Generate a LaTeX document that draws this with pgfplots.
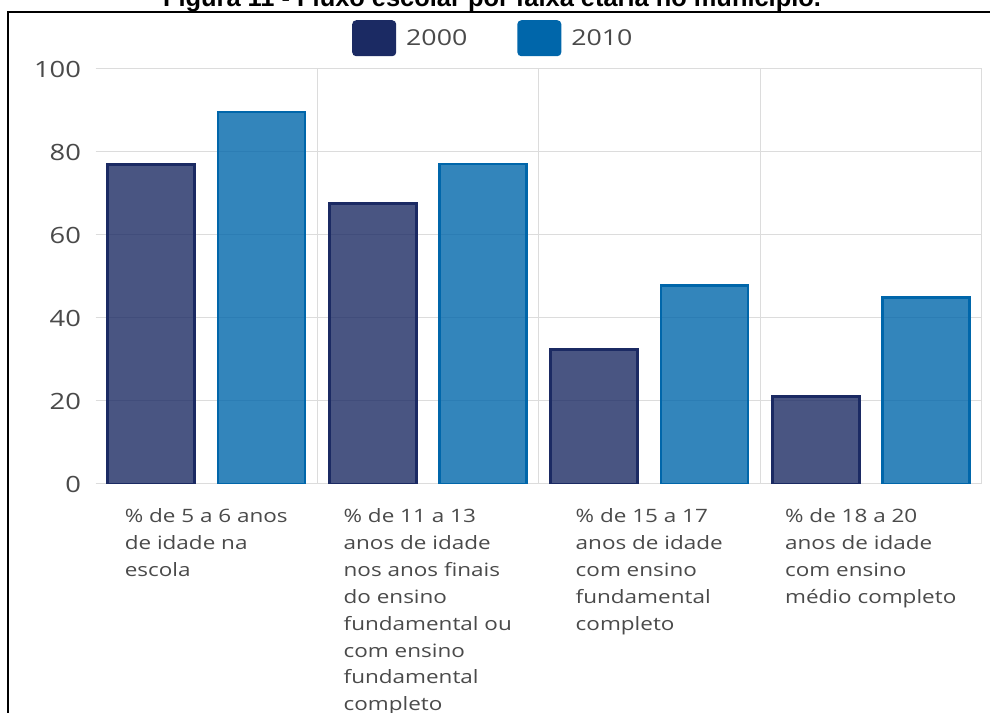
\documentclass[border=0pt]{standalone}
\usepackage{fontspec}
\setmainfont{Open Sans}[FakeStretch=1.22]
\newfontfamily\titlefont{Liberation Sans}
\usepackage{pgfplots}
\pgfplotsset{compat=1.18}

\definecolor{navy}{HTML}{1B2A63}
\definecolor{blu}{HTML}{0066AA}
\definecolor{lbl}{HTML}{4A4A4A}
\definecolor{gridc}{HTML}{DCDCDC}

\begin{document}
\begin{tikzpicture}
\useasboundingbox (0bp,0bp) rectangle (990bp,713bp);
% frame and cut-off caption
\draw[line width=2bp] (8bp,0bp) -- (8bp,701bp) -- (995bp,701bp);
\node[anchor=base, font=\titlefont\bfseries\fontsize{25.5}{25.5}\selectfont] at (492bp,706bp)
  {Figura 11 - Fluxo escolar por faixa etária no município.};

\begin{axis}[
  at={(95.5bp,229bp)}, anchor=south west,
  scale only axis, width=886bp, height=415bp,
  xmin=-0.5, xmax=3.5, ymin=0, ymax=100,
  axis line style={draw=none},
  major tick length=0pt,
  ytick={0,20,...,100},
  ymajorgrids,
  grid style={gridc, line width=1bp},
  xtick={0,1,2,3},
  xticklabels={
    {\% de 5 a 6 anos\\de idade na\\escola},
    {\% de 11 a 13\\anos de idade\\nos anos finais\\do ensino\\fundamental ou\\com ensino\\fundamental\\completo},
    {\% de 15 a 17\\anos de idade\\com ensino\\fundamental\\completo},
    {\% de 18 a 20\\anos de idade\\com ensino\\médio completo}},
  extra x ticks={0.5,1.5,2.5,3.5},
  extra x tick labels={},
  extra x tick style={grid=major},
  /pgf/number format/assume math mode=true,
  yticklabel style={font=\fontsize{22.5}{22.5}\selectfont, text=lbl, xshift=-11bp},
  xticklabel style={align=left, anchor=north, font=\fontsize{18.5}{27}\selectfont, text=lbl, yshift=-21bp},
  legend columns=2,
  legend style={at={(rel axis cs:0.2895,1.118)}, anchor=north west, draw=none, fill=none,
    inner sep=0pt, font=\fontsize{22}{22}\selectfont, text=lbl,
    /tikz/every odd column/.append style={column sep=8bp},
    /tikz/every even column/.append style={column sep=48bp}},
]
\addplot[ybar, bar width=87bp, bar shift=-55bp, draw=navy, line width=2.8bp,
  fill=navy, fill opacity=0.8,
  legend image code/.code={\path[fill=navy, fill opacity=1, draw=none, rounded corners=4bp] (0bp,-18bp) rectangle (44bp,18bp);}]
  coordinates {(0,77.0) (1,67.6) (2,32.5) (3,21.0)};
\addlegendentry{2000}
\addplot[ybar, bar width=87bp, bar shift=55bp, draw=blu, line width=2.5bp,
  fill=blu, fill opacity=0.8,
  legend image code/.code={\path[fill=blu, fill opacity=1, draw=none, rounded corners=4bp] (0bp,-18bp) rectangle (44bp,18bp);}]
  coordinates {(0,89.6) (1,77.1) (2,47.8) (3,44.9)};
\addlegendentry{2010}
\end{axis}
\end{tikzpicture}
\end{document}
